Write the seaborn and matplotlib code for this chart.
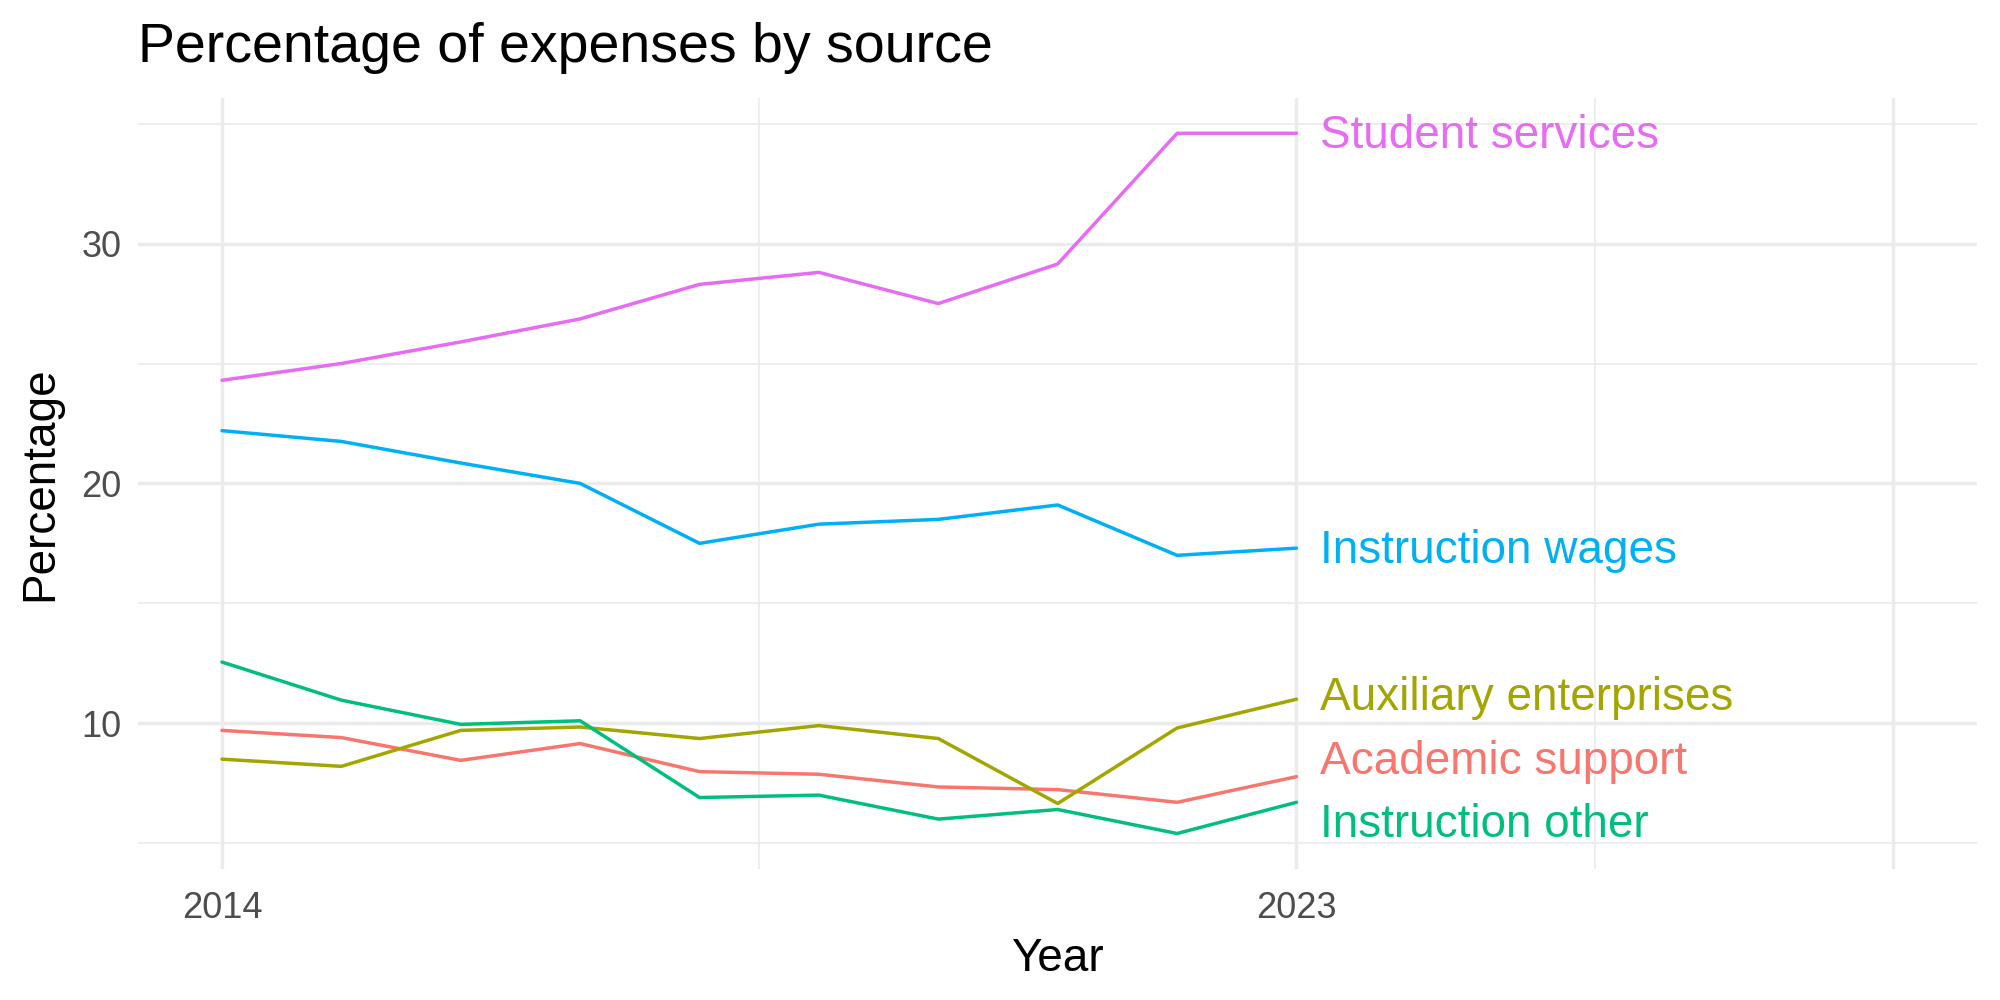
import matplotlib
matplotlib.use("Agg")
import matplotlib.pyplot as plt
import seaborn as sns
import pandas as pd
import numpy as np

# data
years = list(range(2014, 2024))

academic_support = [9.7, 9.4, 8.45, 9.15, 7.98, 7.87, 7.34, 7.23, 6.7, 7.77]
auxiliary_enterprises = [8.5, 8.2, 9.7, 9.84, 9.36, 9.9, 9.36, 6.65, 9.8, 11.0]
instruction_other = [12.55, 10.96, 9.95, 10.1, 6.9, 7.0, 6.0, 6.4, 5.4, 6.7]
instruction_wages = [22.2, 21.75, 20.85, 20.0, 17.5, 18.3, 18.5, 19.1, 17.0, 17.3]
student_services = [24.3, 25.0, 25.9, 26.86, 28.3, 28.8, 27.5, 29.15, 34.6, 34.6]

sources = ["Academic support", "Auxiliary enterprises", "Instruction other",
           "Instruction wages", "Student services"]
colors = ["#F8766D", "#A3A500", "#00BF7D", "#00B0F6", "#E76BF3"]

###################################################################

df = pd.concat([
    pd.DataFrame({"Year": years, "Percentage": vals, "source": name})
    for name, vals in zip(sources, [academic_support, auxiliary_enterprises,
                                    instruction_other, instruction_wages,
                                    student_services])
])

sns.set_theme(style="white")
plt.rcParams["font.family"] = ["Liberation Sans", "DejaVu Sans"]
plt.rcParams["text.color"] = "black"
plt.rcParams["axes.labelcolor"] = "black"

fig = plt.figure(figsize=(20, 10), dpi=100)
ax = fig.add_axes([0.0692, 0.1315, 0.9193, 0.7702])

sns.lineplot(data=df, x="Year", y="Percentage", hue="source",
             palette=dict(zip(sources, colors)), linewidth=2.5,
             legend=False, ax=ax)

# end labels, nudged apart a bit like ggrepel does
last = df[df.Year == max(years)].sort_values("Percentage")
ys = list(last.Percentage.values)
gap = 2.65
for _ in range(200):
    for i in range(len(ys) - 1):
        d = ys[i + 1] - ys[i]
        if d < gap:
            push = (gap - d) / 2
            ys[i] -= push
            ys[i + 1] += push
for (name, row), ypos in zip(last.iterrows(), ys):
    ax.text(max(years) + 0.2, ypos - 0.1, row.source, ha="left", va="center",
            fontsize=33, color=colors[sources.index(row.source)])

# ggplot style limits / grid
xlo, xhi = 2014, 2028
xpad = 0.05 * (xhi - xlo)
ax.set_xlim(xlo - xpad, xhi + xpad)
ylo, yhi = df.Percentage.min(), df.Percentage.max()
ypad = 0.05 * (yhi - ylo)
ax.set_ylim(ylo - ypad, yhi + ypad)

ax.set_xticks([2014, 2023, 2028])
ax.set_xticklabels(["2014", "2023", ""])
ax.set_xticks([2018.5, 2025.5], minor=True)
ax.set_yticks([10, 20, 30])
ax.set_yticks([5, 15, 25, 35], minor=True)

ax.grid(True, which="major", color="#EBEBEB", linewidth=2.5)
ax.grid(True, which="minor", color="#EBEBEB", linewidth=1.2)
ax.set_axisbelow(True)
for s in ax.spines.values():
    s.set_visible(False)
ax.tick_params(which="both", length=0)
ax.tick_params(axis="both", labelsize=26, labelcolor="#4D4D4D")
ax.tick_params(axis="x", pad=16)
ax.tick_params(axis="y", pad=12)

ax.set_xlabel("Year", fontsize=33, labelpad=8)
ax.set_ylabel("Percentage", fontsize=33, labelpad=14)
fig.text(0.0692, 0.952, "Percentage of expenses by source", fontsize=40,
         ha="left", va="center")

plt.savefig("out.png", dpi=100)
